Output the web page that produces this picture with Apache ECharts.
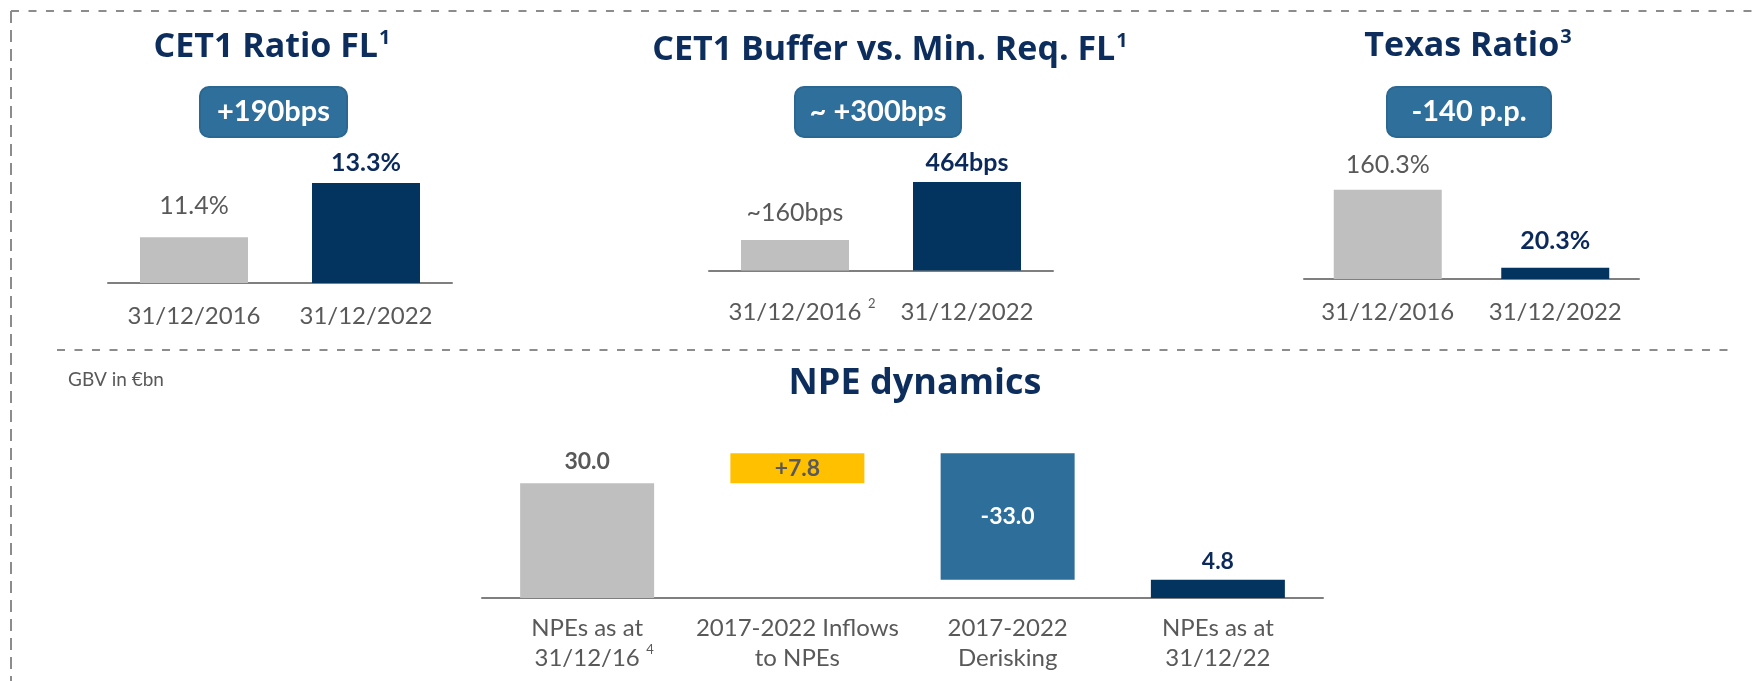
<!DOCTYPE html>
<html>
<head>
<meta charset="utf-8">
<title>Capital and NPE dynamics</title>
<script src="https://cdn.jsdelivr.net/npm/echarts@6/dist/echarts.min.js"></script>
<style>
  html, body { margin: 0; padding: 0; background: #fff; }
  #chart { width: 1761px; height: 681px; }
</style>
</head>
<body>
<div id="chart"></div>
<script>
// data
const dateCats = ['31/12/2016', '31/12/2022']
const cet1Ratio = [11.4, 13.3]          // %
const cet1Buffer = [160, 464]           // bps (2016 is approx.)
const texasRatio = [160.3, 20.3]        // %
const badgeTexts = ['+190bps', '~ +300bps', '-140 p.p.']

const npeCats = ['NPEs as at|31/12/16|4', '2017-2022 Inflows|to NPEs|', '2017-2022|Derisking|', 'NPEs as at|31/12/22|']
const npeValues = [30.0, 7.8, -33.0, 4.8]   // GBV in €bn

const FONT = 'Lato'
const TITLE_FONT = '"Open Sans"'
const NAVY = '#03335f'
const TITLE_NAVY = '#0d2e5c'
const GREY_BAR = '#bfbfbf'
const TEXT_GREY = '#595959'
const STEEL = '#2e6e9a'
const YELLOW = '#ffc000'

// waterfall: invisible base + visible delta
const npeBase = []
const npeDelta = []
let running = 0
npeValues.forEach((v, i) => {
  if (i === 0 || i === npeValues.length - 1) {
    npeBase.push(0)
    npeDelta.push(v)
    running = v
  } else if (v >= 0) {
    npeBase.push(running)
    npeDelta.push(v)
    running += v
  } else {
    running += v
    npeBase.push(running)
    npeDelta.push(-v)
  }
})

const catRich = {
  c: { fontFamily: FONT, fontSize: 24, color: TEXT_GREY, lineHeight: 30 },
  p: { width: 14 },
  s: { fontFamily: FONT, fontSize: 13, color: TEXT_GREY, width: 14, align: 'right', verticalAlign: 'top', lineHeight: 26 }
}

function topXAxis(idx, supers) {
  return {
    type: 'category', gridIndex: idx, data: dateCats,
    axisLine: { lineStyle: { color: '#7f7f7f', width: 2 } },
    axisTick: { show: false },
    axisLabel: {
      margin: 18,
      interval: 0,
      formatter: (v, i) => supers && supers[i] ? '{p|}{c|' + v + '}{s|' + supers[i] + '}' : '{c|' + v + '}',
      rich: catRich
    }
  }
}

function topSeries(idx, values, fmt, dists) {
  const colors = [GREY_BAR, NAVY]
  return {
    type: 'bar', xAxisIndex: idx, yAxisIndex: idx, barWidth: 108,
    data: values.map((v, j) => ({
      value: v,
      itemStyle: { color: colors[j] },
      label: {
        show: true, position: 'top', distance: dists[j],
        formatter: fmt(v, j),
        fontFamily: FONT, fontSize: 25,
        fontWeight: j === 0 ? 'normal' : 'bold',
        color: j === 0 ? TEXT_GREY : '#0b2a5b'
      }
    }))
  }
}

function titleText(x, y, main, sup, size) {
  return {
    type: 'text', x: x, y: y, silent: true,
    style: {
      text: '{t|' + main + '}' + (sup ? '{s|' + sup + '}' : ''),
      align: 'center', verticalAlign: 'middle',
      rich: {
        t: { fontFamily: TITLE_FONT, fontSize: size, fontWeight: 'bold', fill: TITLE_NAVY, lineHeight: 44 },
        s: { fontFamily: TITLE_FONT, fontSize: 20, fontWeight: 'bold', fill: TITLE_NAVY, verticalAlign: 'top', padding: [3, 0, 0, 1] }
      }
    }
  }
}

function badge(x0, x1, text) {
  return {
    type: 'group', silent: true,
    children: [
      { type: 'rect', shape: { x: x0, y: 87, width: x1 - x0, height: 50, r: 9 },
        style: { fill: '#2f6f9b', stroke: '#2a6891', lineWidth: 2 } },
      { type: 'text', x: (x0 + x1) / 2, y: 112,
        style: { text: text, align: 'center', verticalAlign: 'middle', fill: '#fff',
                 fontFamily: FONT, fontSize: 29, fontWeight: 'bold' } }
    ]
  }
}

function dashed(x1, y1, x2, y2, dash) {
  return {
    type: 'line', silent: true,
    shape: { x1: x1, y1: y1, x2: x2, y2: y2 },
    style: { stroke: '#8c8c8c', lineWidth: 2, lineDash: dash }
  }
}

const chart = echarts.init(document.getElementById('chart'))

chart.setOption({
  animation: false,
  grid: [
    { left: 108, width: 344, top: 140, bottom: 398, outerBoundsMode: 'none' },
    { left: 709, width: 344, top: 140, bottom: 402, outerBoundsMode: 'none' },
    { left: 1304, width: 335, top: 140, bottom: 402, outerBoundsMode: 'none' },
    { left: 482, width: 841, top: 420, bottom: 83, outerBoundsMode: 'none' }
  ],
  xAxis: [
    topXAxis(0),
    topXAxis(1, ['2', '']),
    topXAxis(2),
    {
      type: 'category', gridIndex: 3, data: npeCats,
      axisLine: { lineStyle: { color: '#7f7f7f', width: 2 } },
      axisTick: { show: false },
      axisLabel: {
        margin: 15, interval: 0,
        formatter: v => {
          const [l1, l2, sup] = v.split('|')
          const second = sup ? '{p|}{c|' + l2 + '}{s|' + sup + '}' : '{c|' + l2 + '}'
          return '{c|' + l1 + '}\n' + second
        },
        rich: catRich
      }
    }
  ],
  yAxis: [
    { type: 'value', gridIndex: 0, min: 9.8, max: 14.8, show: false },
    { type: 'value', gridIndex: 1, min: -44, max: 684, show: false },
    { type: 'value', gridIndex: 2, min: 0, max: 250, show: false },
    { type: 'value', gridIndex: 3, min: 0, max: 46.5, show: false }
  ],
  series: [
    topSeries(0, cet1Ratio, v => v.toFixed(1) + '%', [19, 7]),
    topSeries(1, cet1Buffer, (v, j) => (j === 0 ? '~' : '') + v + 'bps', [15, 7]),
    topSeries(2, texasRatio, v => v.toFixed(1) + '%', [12, 14]),
    {
      name: 'base', type: 'bar', stack: 'npe', xAxisIndex: 3, yAxisIndex: 3,
      barWidth: 134, silent: true,
      itemStyle: { color: 'transparent' },
      data: npeBase
    },
    {
      name: 'delta', type: 'bar', stack: 'npe', xAxisIndex: 3, yAxisIndex: 3,
      barWidth: 134,
      data: npeDelta.map((d, i) => {
        const v = npeValues[i]
        const txt = i > 0 && i < npeValues.length - 1 && v > 0 ? '+' + v.toFixed(1) : v.toFixed(1)
        const colors = [GREY_BAR, YELLOW, STEEL, NAVY]
        const lblColors = [TEXT_GREY, TEXT_GREY, '#ffffff', '#0b2a5b']
        const inside = i === 1 || i === 2
        return {
          value: d,
          itemStyle: { color: colors[i] },
          label: {
            show: true,
            position: inside ? 'inside' : 'top',
            distance: i === 0 ? 10 : 7,
            formatter: txt,
            fontFamily: FONT, fontSize: 23, fontWeight: 'bold',
            color: lblColors[i]
          }
        }
      })
    }
  ],
  graphic: [
    dashed(11, 11, 1761, 11, [8, 9.5]),
    dashed(11, 11, 11, 681, [12, 7]),
    dashed(57, 350, 1728, 350, [8, 9.5]),
    titleText(272, 47, 'CET1 Ratio FL', '1', 34),
    titleText(890, 50, 'CET1 Buffer vs. Min. Req. FL', '1', 34),
    titleText(1468, 46, 'Texas Ratio', '3', 34),
    titleText(915, 384, 'NPE dynamics', '', 36),
    badge(200, 347, badgeTexts[0]),
    badge(795, 961, badgeTexts[1]),
    badge(1387, 1551, badgeTexts[2]),
    {
      type: 'text', x: 68, y: 380, silent: true,
      style: { text: 'GBV in €bn', verticalAlign: 'middle', fill: TEXT_GREY, fontFamily: FONT, fontSize: 19 }
    }
  ]
})
</script>
</body>
</html>
